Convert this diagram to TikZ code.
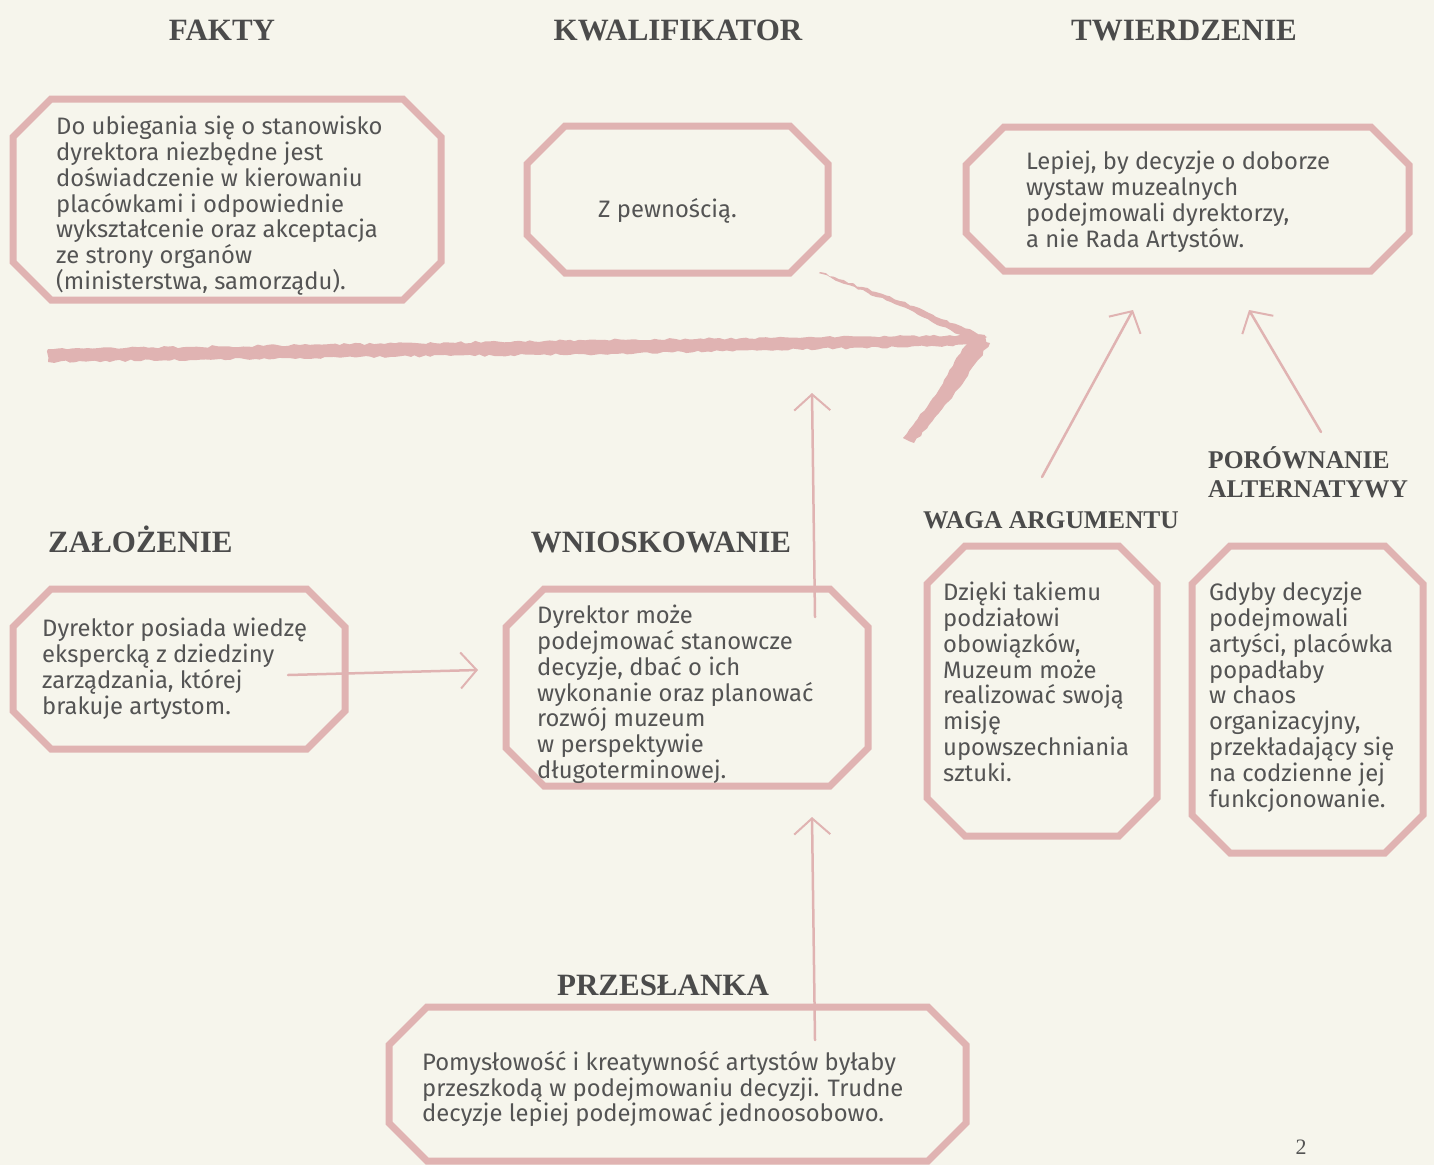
\documentclass[tikz,border=0pt]{standalone}
\usepackage{fontspec}
\setmainfont{Fira Sans}
\newfontfamily\headfont{Liberation Serif}
\usetikzlibrary{arrows.meta,decorations.pathmorphing}

\definecolor{paper}{HTML}{F6F5EC}
\definecolor{rose}{HTML}{E0B3B2}
\definecolor{ink}{HTML}{545454}

\tikzset{
  boxarea/.style={rectangle,inner sep=0pt,outer sep=0pt},
  octline/.style={draw=rose,line width=7pt,line join=miter},
  bodytext/.style={anchor=north west,inner sep=0pt,align=left,text=ink,
    font=\fontsize{23.8}{25.8}\selectfont,
    execute at begin node=\rule{0pt}{20pt}},
  heading/.style={anchor=base,inner sep=0pt,text=ink!90!black,
    font=\headfont\bfseries\fontsize{31}{34}\selectfont},
  subheading/.style={anchor=base west,inner sep=0pt,align=left,text=ink!90!black,
    font=\headfont\bfseries\fontsize{25.5}{29}\selectfont},
  pencil/.style={draw=rose,line width=2.5pt,line cap=round,
    -{Straight Barb[length=16pt,width=36pt,line width=2pt]}},
  brush/.style={fill=rose,decorate,
    decoration={random steps,segment length=5pt,amplitude=1.2pt}}
}

% octagon frame round a box node
\newcommand\octframe[1]{%
  \draw[octline] ([xshift=38pt]#1.north west) -- ([xshift=-38pt]#1.north east)
    -- ([yshift=-38pt]#1.north east) -- ([yshift=38pt]#1.south east)
    -- ([xshift=-38pt]#1.south east) -- ([xshift=38pt]#1.south west)
    -- ([yshift=38pt]#1.south west) -- ([yshift=-38pt]#1.north west) -- cycle;}

\begin{document}
\begin{tikzpicture}[x=1pt,y=-1pt]
  \fill[paper] (0,0) rectangle (1434,1165);
  \useasboundingbox (0,0) rectangle (1434,1165);

  % headings
  \node[heading] (hfakty) at (222,40) {FAKTY};
  \node[heading] (hkwal) at (678,40) {KWALIFIKATOR};
  \node[heading] (htwier) at (1184,40) {TWIERDZENIE};
  \node[heading,anchor=base west] (hzal) at (48,552) {ZAŁOŻENIE};
  \node[heading] (hwnio) at (661,552) {WNIOSKOWANIE};
  \node[subheading] (hwaga) at (923,528) {WAGA ARGUMENTU};
  \node[subheading] (hpor) at (1208,497) {PORÓWNANIE\\ALTERNATYWY};
  \node[heading] (hprz) at (663,995) {PRZESŁANKA};
  \node[anchor=base,inner sep=0pt,text=ink,font=\headfont\fontsize{22}{24}\selectfont]
    (pagenum) at (1301,1154) {2};

  % boxes
  \node[boxarea,minimum width=428pt,minimum height=201pt] (faktybox) at (227,199.5) {};
  \node[boxarea,minimum width=301pt,minimum height=147pt] (kwalbox) at (677.5,199.5) {};
  \node[boxarea,minimum width=443pt,minimum height=144pt] (twierbox) at (1187.5,199) {};
  \node[boxarea,minimum width=332pt,minimum height=160pt] (zalbox) at (179,669) {};
  \node[boxarea,minimum width=362pt,minimum height=197pt] (wniobox) at (687,687.5) {};
  \node[boxarea,minimum width=230pt,minimum height=290pt] (wagabox) at (1042,691) {};
  \node[boxarea,minimum width=231pt,minimum height=307pt] (porbox) at (1307.5,699.5) {};
  \node[boxarea,minimum width=577pt,minimum height=154pt] (przbox) at (677.5,1084) {};
  \foreach \b in {faktybox,kwalbox,twierbox,zalbox,wniobox,wagabox,porbox,przbox}
    {\octframe{\b}}

  % texts (top = first baseline - 20)
  \node[bodytext] (faktytxt) at (56,116) {Do ubiegania się o stanowisko\\
    dyrektora niezbędne jest\\doświadczenie w kierowaniu\\placówkami i odpowiednie\\
    wykształcenie oraz akceptacja\\ze strony organów\\(ministerstwa, samorządu).};
  \node[bodytext] (kwaltxt) at (598,197) {Z pewnością.};
  \node[bodytext] (twiertxt) at (1026,151) {Lepiej, by decyzje o doborze\\
    wystaw muzealnych\\podejmowali dyrektorzy,\\a nie Rada Artystów.};
  \node[bodytext] (zaltxt) at (42,618) {Dyrektor posiada wiedzę\\
    ekspercką z dziedziny\\zarządzania, której\\brakuje artystom.};
  \node[bodytext] (wniotxt) at (537,605) {Dyrektor może\\podejmować stanowcze\\
    decyzje, dbać o ich\\wykonanie oraz planować\\rozwój muzeum\\w perspektywie\\
    długoterminowej.};
  \node[bodytext] (wagatxt) at (943,582) {Dzięki takiemu\\podziałowi\\obowiązków,\\
    Muzeum może\\realizować swoją\\misję\\upowszechniania\\sztuki.};
  \node[bodytext] (portxt) at (1209,582) {Gdyby decyzje\\podejmowali\\
    artyści, placówka\\popadłaby\\w chaos\\organizacyjny,\\przekładający się\\
    na codzienne jej\\funkcjonowanie.};
  \node[bodytext] (przteksttxt) at (422,1051) {Pomysłowość i kreatywność artystów byłaby\\
    przeszkodą w podejmowaniu decyzji. Trudne\\decyzje lepiej podejmować jednoosobowo.};

  % big brush arrow
  \path[brush] (48,349) -- (300,345) -- (600,340) -- (985,335) -- (987,345)
    -- (600,354) -- (300,358) -- (48,362) -- cycle;
  \path[brush] (820,272) -- (900,301) -- (987,337) -- (977,344) -- (900,306) -- (821,274) -- cycle;
  \path[brush] (903,438) -- (940,388) -- (970,337) -- (990,343) -- (952,398) -- (914,443) -- cycle;

  % thin arrows
  \coordinate (zalstart) at (288,675);
  \coordinate (zalend) at (478,670);
  \coordinate (wniostart) at (815,617);
  \coordinate (wnioend) at (812,393);
  \coordinate (przstart) at (815,1040);
  \coordinate (przend) at (812,817);
  \coordinate (wagastart) at (1042,477);
  \coordinate (wagaend) at (1133,310);
  \coordinate (porstart) at (1321,432);
  \coordinate (porend) at (1249,310);
  \draw[pencil] (zalstart) -- (zalend);
  \draw[pencil] (wniostart) -- (wnioend);
  \draw[pencil] (przstart) -- (przend);
  \draw[pencil] (wagastart) -- (wagaend);
  \draw[pencil] (porstart) -- (porend);
\end{tikzpicture}
\end{document}
